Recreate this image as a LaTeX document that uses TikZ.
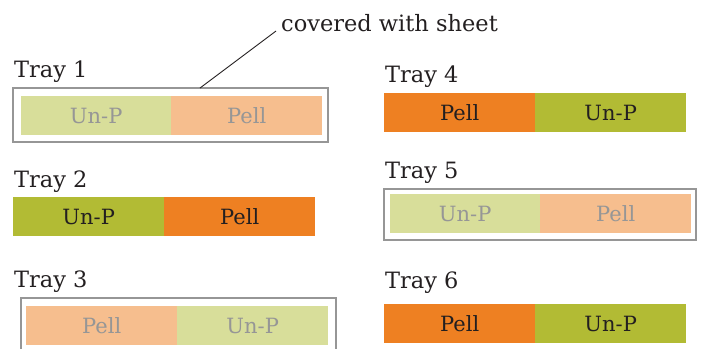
\documentclass[tikz,border=0pt]{standalone}
\usepackage{fontspec}
\setmainfont{DejaVu Serif}
\definecolor{ink}{RGB}{35,31,32}
\definecolor{pellC}{RGB}{238,128,34}
\definecolor{unpC}{RGB}{178,187,52}
\definecolor{pellL}{RGB}{246,190,142}
\definecolor{unpL}{RGB}{216,222,154}
\definecolor{sheetC}{RGB}{150,150,150}
\definecolor{fadeT}{RGB}{150,150,150}
\tikzset{
  half/.style={anchor=north west, inner sep=0pt, minimum height=39pt,
    font=\fontsize{21}{25}\selectfont},
  pell/.style={half, fill=pellC, text=ink},
  unp/.style={half, fill=unpC, text=ink},
  pellfade/.style={half, fill=pellL, text=fadeT},
  unpfade/.style={half, fill=unpL, text=fadeT},
  traylabel/.style={anchor=base west, inner sep=0pt, text=ink,
    font=\fontsize{22.5}{27}\selectfont},
  sheetbox/.style={draw=sheetC, line width=2pt},
  leader/.style={draw=ink, line width=0.9pt}
}
\begin{document}
\begin{tikzpicture}[x=1pt, y=-1pt]
\useasboundingbox (0,0) rectangle (701,348);

% annotation
\node[traylabel] (note) at (281,31) {covered with sheet};

% Tray 1 (covered)
\node[traylabel] (t1) at (14,77) {Tray 1};
\draw[sheetbox] (13,88) rectangle (328,142);
\node[unpfade, minimum width=150pt] (t1a) at (21,96) {Un-P};
\node[pellfade, minimum width=151pt] (t1b) at (171,96) {Pell};
\coordinate (leadA) at (200,88);
\coordinate (leadB) at (276,31);
\draw[leader] (leadA) -- (leadB);

% Tray 2
\node[traylabel] (t2) at (14,187) {Tray 2};
\node[unp, minimum width=151pt] (t2a) at (13,197) {Un-P};
\node[pell, minimum width=151pt] (t2b) at (164,197) {Pell};

% Tray 3 (covered, sheet runs past the lower edge)
\node[traylabel] (t3) at (14,287) {Tray 3};
\draw[sheetbox] (21,360) -- (21,298) -- (336,298) -- (336,360);
\node[pellfade, minimum width=151pt] (t3a) at (26,306) {Pell};
\node[unpfade, minimum width=151pt] (t3b) at (177,306) {Un-P};

% Tray 4
\node[traylabel] (t4) at (385,82) {Tray 4};
\node[pell, minimum width=151pt] (t4a) at (384,93) {Pell};
\node[unp, minimum width=151pt] (t4b) at (535,93) {Un-P};

% Tray 5 (covered)
\node[traylabel] (t5) at (385,178) {Tray 5};
\draw[sheetbox] (384,189) rectangle (696,240);
\node[unpfade, minimum width=150pt] (t5a) at (390,194) {Un-P};
\node[pellfade, minimum width=151pt] (t5b) at (540,194) {Pell};

% Tray 6
\node[traylabel] (t6) at (385,288) {Tray 6};
\node[pell, minimum width=151pt] (t6a) at (384,304) {Pell};
\node[unp, minimum width=151pt] (t6b) at (535,304) {Un-P};
\end{tikzpicture}
\end{document}
